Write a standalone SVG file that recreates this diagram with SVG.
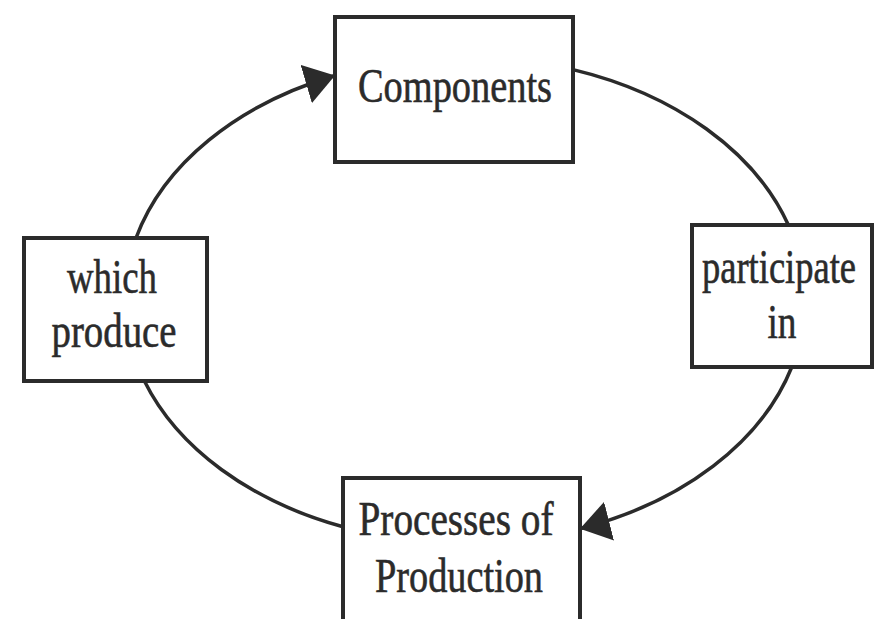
<svg xmlns="http://www.w3.org/2000/svg" width="886" height="619" viewBox="0 0 886 619">
<style>
.box{fill:#fff;stroke:#2b2b2b;stroke-width:4}
.lbl{font-family:"Liberation Serif","Times New Roman",serif;font-size:48px;fill:#2b2b2b;stroke:#2b2b2b;stroke-width:0.6;text-anchor:middle}
.con{fill:none;stroke:#2b2b2b;stroke-width:3.5}
</style>
<defs>
<marker id="ah" markerUnits="userSpaceOnUse" markerWidth="32" markerHeight="40" refX="30" refY="20" orient="auto">
<path d="M0,0 L30,20 L0,40 z" fill="#2b2b2b"/>
</marker>
</defs>
<rect width="886" height="619" fill="#fff"/>
<g id="connectors">
<path class="con" d="M136,238 A340 243 0 0 1 335,75.5" marker-end="url(#ah)"/>
<path class="con" d="M573,69.6 A340 243 0 0 1 788.4,225"/>
<path class="con" d="M791.8,367 A340 243 0 0 1 580,528.7" marker-end="url(#ah)"/>
<path class="con" d="M343,526.8 A340 243 0 0 1 144.4,381"/>
</g>
<g id="components">
<rect class="box" x="335" y="17" width="238" height="145"/>
<text class="lbl" x="455" y="102" textLength="194" lengthAdjust="spacingAndGlyphs">Components</text>
</g>
<g id="participate">
<rect class="box" x="692" y="225" width="180" height="142"/>
<text class="lbl" x="779" y="283" textLength="154" lengthAdjust="spacingAndGlyphs">participate</text>
<text class="lbl" x="782" y="338" textLength="29" lengthAdjust="spacingAndGlyphs">in</text>
</g>
<g id="processes">
<rect class="box" x="343" y="478" width="237" height="160"/>
<text class="lbl" x="456" y="535" textLength="195" lengthAdjust="spacingAndGlyphs">Processes of</text>
<text class="lbl" x="459" y="592" textLength="168" lengthAdjust="spacingAndGlyphs">Production</text>
</g>
<g id="which">
<rect class="box" x="24" y="238" width="183" height="143"/>
<text class="lbl" x="112" y="293" textLength="90" lengthAdjust="spacingAndGlyphs">which</text>
<text class="lbl" x="114" y="347" textLength="125" lengthAdjust="spacingAndGlyphs">produce</text>
</g>
</svg>
